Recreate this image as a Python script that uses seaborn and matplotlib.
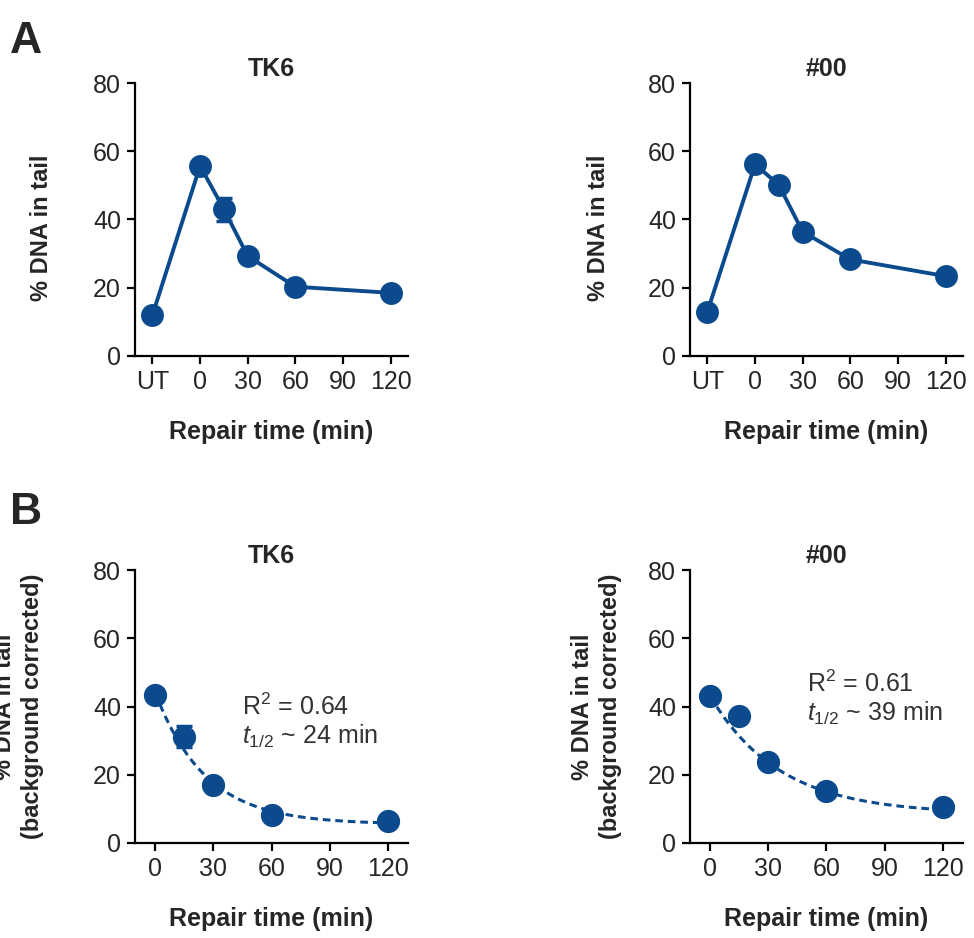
import numpy as np
import pandas as pd
import matplotlib
matplotlib.use("Agg")
import matplotlib.pyplot as plt
import seaborn as sns

# panel A: raw % DNA in tail (UT drawn at x = -30)
time_a = [-30, 0, 15, 30, 60, 120]
tk6_a = [12.0, 55.7, 43.0, 29.3, 20.3, 18.5]
tk6_a_err = [0, 0, 3.4, 0, 0, 0]
c00_a = [13.0, 56.2, 50.1, 36.4, 28.3, 23.4]
c00_a_err = [0, 0, 0, 0, 0, 0]
ticks_a = [-30, 0, 30, 60, 90, 120]
ticklabels_a = ["UT", "0", "30", "60", "90", "120"]

# panel B: background corrected
time_b = [0, 15, 30, 60, 120]
tk6_b = [43.4, 31.2, 17.1, 8.3, 6.3]
tk6_b_err = [0, 3.0, 0, 0, 0]
c00_b = [43.1, 37.1, 23.7, 15.1, 10.4]
c00_b_err = [0, 0, 0, 0, 0]
ticks_b = [0, 30, 60, 90, 120]

# decay curve parameters as drawn (top, plateau, curve half-life)
tk6_fit = (44.0, 5.5, 18)
c00_fit = (43.0, 8.5, 25)
tk6_stats = ("0.64", "24")
c00_stats = ("0.61", "39")

BLUE = "#0B4A8C"
TXT = "#262626"

sns.set_theme(style="ticks")
plt.rcParams["font.family"] = ["Liberation Sans", "DejaVu Sans"]
plt.rcParams["mathtext.fontset"] = "custom"
plt.rcParams["mathtext.rm"] = "Liberation Sans"
plt.rcParams["mathtext.it"] = "Liberation Sans:italic"

fig = plt.figure(figsize=(9.74, 9.38), dpi=100)
W, H = 0.2803, 0.2910
ax_tl = fig.add_axes([0.1386, 0.6205, W, H])
ax_tr = fig.add_axes([0.7084, 0.6205, W, H])
ax_bl = fig.add_axes([0.1386, 0.1013, W, H])
ax_br = fig.add_axes([0.7084, 0.1013, W, H])


def style_axes(ax, title, xlim, ticks, ticklabels):
    ax.set_xlim(*xlim)
    ax.set_ylim(0, 80)
    ax.set_yticks([0, 20, 40, 60, 80])
    ax.set_xticks(ticks)
    ax.set_xticklabels(ticklabels)
    for s in ["top", "right"]:
        ax.spines[s].set_visible(False)
    for s in ["left", "bottom"]:
        ax.spines[s].set_linewidth(1.6)
        ax.spines[s].set_color("black")
    ax.tick_params(axis="both", length=6, width=1.6, color="black",
                   labelsize=18, labelcolor=TXT, pad=4)
    ax.set_title(title, fontsize=18, fontweight="bold", pad=5)
    ax.set_xlabel("Repair time (min)", fontsize=18, fontweight="bold")
    ax.xaxis.set_label_coords(0.5, -0.235)


def draw_line(ax, x, y, err):
    df = pd.DataFrame({"t": x, "v": y})
    sns.lineplot(data=df, x="t", y="v", ax=ax, color=BLUE, lw=2.8,
                 marker="o", markersize=16.5, markeredgewidth=0, clip_on=False,
                 errorbar=None, zorder=3)
    ax.errorbar(x, y, yerr=err, fmt="none", ecolor=BLUE, elinewidth=2.5,
                capsize=6, capthick=2.5, zorder=2)


def draw_fit(ax, x, y, err, fit, stats, tx, ty):
    top, plateau, half = fit
    grid = np.linspace(0, 120, 200)
    curve = (top - plateau) * np.exp(-np.log(2) / half * grid) + plateau
    sns.lineplot(x=grid, y=curve, ax=ax, color=BLUE, lw=2.2,
                 linestyle=(0, (2.5, 1.6)), zorder=2)
    sns.scatterplot(x=x, y=y, ax=ax, color=BLUE, s=280, linewidth=0,
                    clip_on=False, zorder=3)
    ax.errorbar(x, y, yerr=err, fmt="none", ecolor=BLUE, elinewidth=2.5,
                capsize=6, capthick=2.5, zorder=2)
    ax.text(tx, ty[0], "R$^2$ = " + stats[0], fontsize=18, color="#333333",
            va="center", ha="left")
    ax.text(tx, ty[1], "$t_{1/2}$ ~ " + stats[1] + " min", fontsize=18,
            color="#333333", va="center", ha="left")


# panel A
draw_line(ax_tl, time_a, tk6_a, tk6_a_err)
style_axes(ax_tl, "TK6", (-41, 131), ticks_a, ticklabels_a)
draw_line(ax_tr, time_a, c00_a, c00_a_err)
style_axes(ax_tr, "#00", (-41, 131), ticks_a, ticklabels_a)

for ax, xc in [(ax_tl, -0.30), (ax_tr, -0.293)]:
    ax.set_ylabel("% DNA in tail", fontsize=17, fontweight="bold")
    ax.yaxis.set_label_coords(xc, 0.47)

# panel B
draw_fit(ax_bl, time_b, tk6_b, tk6_b_err, tk6_fit, tk6_stats, 45, (39.9, 31.1))
style_axes(ax_bl, "TK6", (-10.5, 130.5), ticks_b, [str(t) for t in ticks_b])
draw_fit(ax_br, time_b, c00_b, c00_b_err, c00_fit, c00_stats, 49.7, (46.6, 38.1))
style_axes(ax_br, "#00", (-10.5, 130.5), ticks_b, [str(t) for t in ticks_b])

for ax, xc in [(ax_bl, -0.333), (ax_br, -0.249)]:
    ax.set_ylabel("% DNA in tail\n(background corrected)", fontsize=17,
                  fontweight="bold", linespacing=1.3)
    ax.yaxis.set_label_coords(xc, 0.5)

fig.text(0.01, 0.978, "A", fontsize=32, fontweight="bold", va="top", ha="left")
fig.text(0.01, 0.475, "B", fontsize=32, fontweight="bold", va="top", ha="left")

fig.savefig("out.png", dpi=100)
plt.close(fig)
